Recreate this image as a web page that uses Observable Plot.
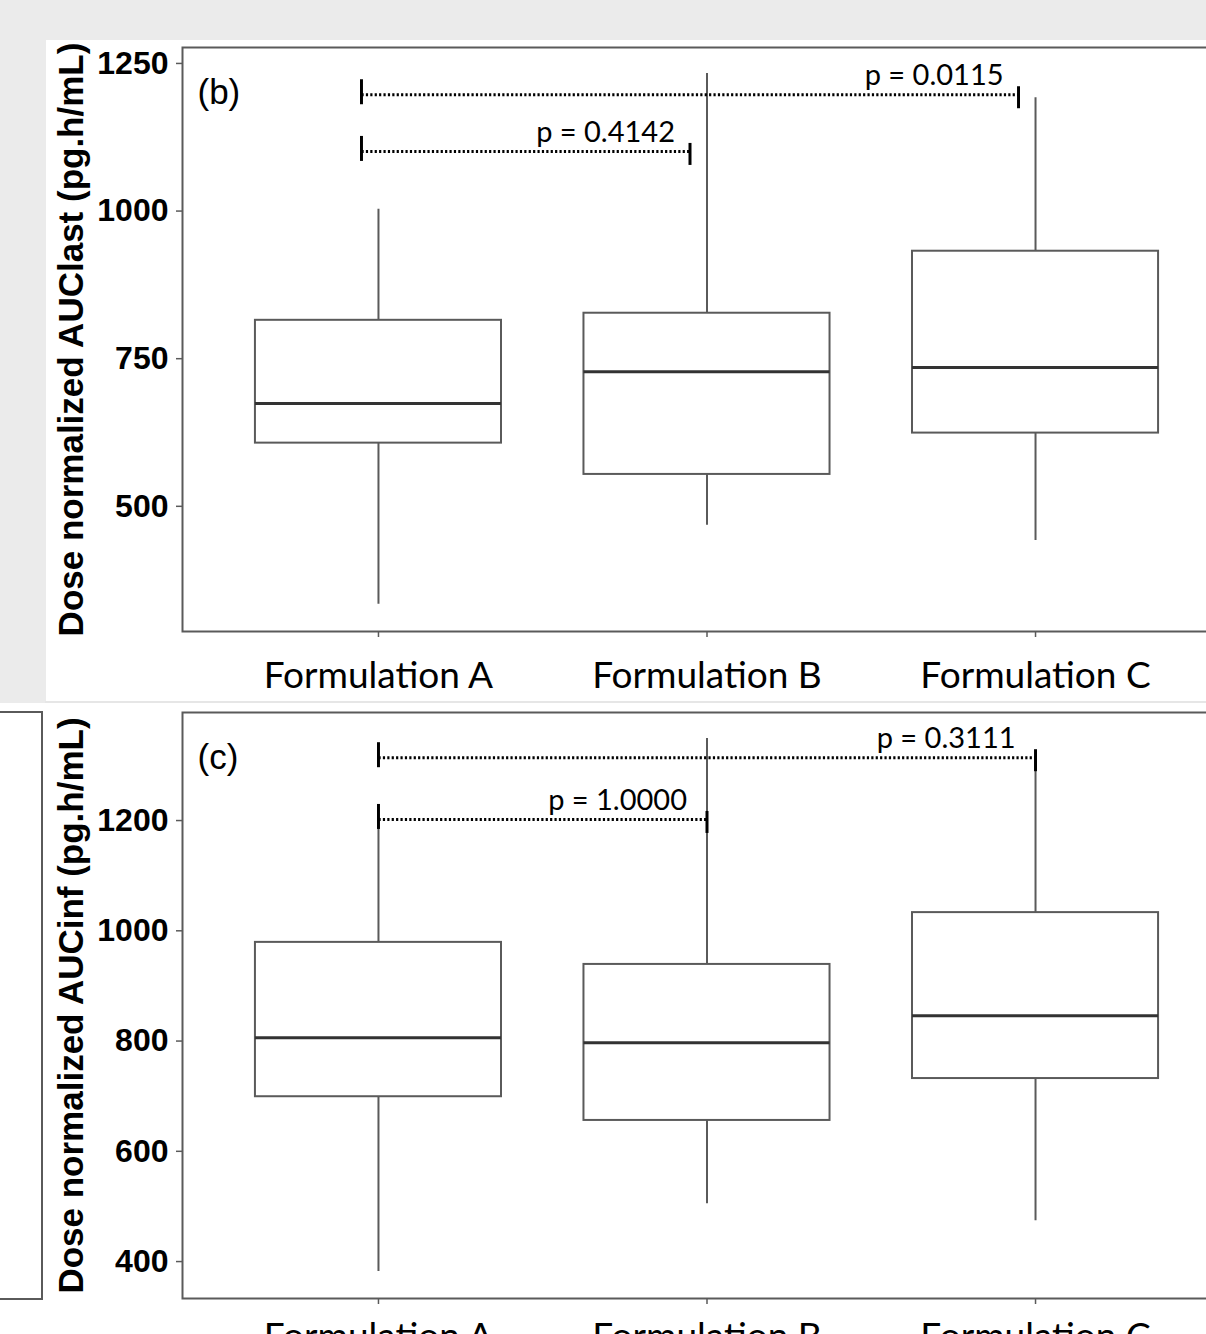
<!DOCTYPE html>
<html>
<head>
<meta charset="utf-8">
<script src="https://cdn.jsdelivr.net/npm/d3@7"></script>
<script src="https://cdn.jsdelivr.net/npm/@observablehq/plot@0.6"></script>
<style>
html, body { margin: 0; padding: 0; width: 1206px; height: 1334px; overflow: hidden; background: #fff; }
#wrap { position: relative; width: 1206px; height: 1334px; overflow: hidden; background: #fff; }
.gray { position: absolute; background: #ebebeb; }
#pb { position: absolute; left: 0; top: 0; }
#pc { position: absolute; left: 0; top: 660px; }
#leftframe { position: absolute; left: -10px; top: 711px; width: 49px; height: 585px; border: 2px solid #5a5a5a; }
#sep { position: absolute; left: 45px; top: 701px; width: 1161px; height: 2px; background: #e6e6e6; }
g[aria-label="y-axis tick label"] text, g[aria-label="y-axis tick label"] { font-weight: bold; }
</style>
</head>
<body>
<div id="wrap">
  <div class="gray" style="left:0;top:0;width:1206px;height:40px"></div>
  <div class="gray" style="left:0;top:40px;width:46px;height:663px"></div>
  <div id="sep"></div>
  <div id="leftframe"></div>
  <div id="pb"></div>
  <div id="pc"></div>
</div>
<script>
// ---- shared categories ----
const categories = ["Formulation A", "Formulation B", "Formulation C"];

// ---- panel (b): Dose normalized AUClast ----
const lastTitle = "Dose normalized AUClast (pg.h/mL)";
const lastTag = "(b)";
const lastTicks = [500, 750, 1000, 1250];
const lastDomain = [288, 1277];
const lastLow = [334, 468, 442];
const lastQ1 = [607, 554, 624];
const lastMedian = [674, 728, 735];
const lastQ3 = [815, 827, 932];
const lastHigh = [1003, 1233, 1192];
const lastBracketFrom = ["Formulation A", "Formulation A"];
const lastBracketTo = ["Formulation C", "Formulation B"];
const lastBracketLevel = [1197, 1101];
const lastBracketLabel = ["p = 0.0115", "p = 0.4142"];

// ---- panel (c): Dose normalized AUCinf ----
const infTitle = "Dose normalized AUCinf (pg.h/mL)";
const infTag = "(c)";
const infTicks = [400, 600, 800, 1000, 1200];
const infDomain = [333, 1396];
const infLow = [382, 505, 474];
const infQ1 = [699, 656, 732];
const infMedian = [806, 797, 846];
const infQ3 = [979, 939, 1033];
const infHigh = [1205, 1349, 1314];
const infBracketFrom = ["Formulation A", "Formulation A"];
const infBracketTo = ["Formulation C", "Formulation B"];
const infBracketLevel = [1314, 1202];
const infBracketLabel = ["p = 0.3111", "p = 1.0000"];

const LINE = "#5a5a5a";

function panel(o) {
  const rows = categories.map((c, i) => ({cat: c, lo: o.lo[i], q1: o.q1[i], med: o.med[i], q3: o.q3[i], hi: o.hi[i]}));
  const br = o.level.map((v, i) => ({from: o.from[i], to: o.to[i], y: v, label: o.labels[i]}));
  return Plot.plot({
    width: 1231,
    height: 700,
    marginLeft: 182,
    marginRight: 0,
    marginTop: o.top,
    marginBottom: o.bottom,
    style: {background: "transparent", maxWidth: "none", overflow: "visible", fontFamily: "'Liberation Sans', Arial, sans-serif", color: "#000"},
    x: {type: "band", domain: categories, paddingInner: 0.251, paddingOuter: 0.222, align: 0.5, round: false},
    y: {domain: o.domain},
    marks: [
      Plot.frame({stroke: LINE, strokeWidth: 2}),
      Plot.axisY({ticks: o.ticks, tickFormat: d => String(d), tickSize: 6, tickPadding: 8, fontSize: 32, fontWeight: "bold", stroke: LINE, strokeWidth: 1.5, fill: "#000", label: null}),
      Plot.axisX({tickSize: 6, tickPadding: o.xPad, fontSize: 37, fontFamily: "Lato", fill: "#000", stroke: LINE, strokeWidth: 1.5, label: null}),
      Plot.ruleX(rows, {x: "cat", y1: "lo", y2: "hi", stroke: LINE, strokeWidth: 2}),
      Plot.barY(rows, {x: "cat", y1: "q1", y2: "q3", fill: "white", stroke: LINE, strokeWidth: 2}),
      Plot.tickY(rows, {x: "cat", y: "med", stroke: "#333", strokeWidth: 3}),
      Plot.link(br, {x1: "from", x2: "to", y1: "y", y2: "y", stroke: "#000", strokeWidth: 3, strokeDasharray: "2.2,2.2", dx: o.bdx}),
      Plot.ruleX(br, {x: "from", y1: "y", y2: "y", insetTop: 10, insetBottom: 15, stroke: "#000", strokeWidth: 3, dx: o.bdx}),
      Plot.ruleX(br, {x: "to", y1: "y", y2: "y", insetTop: 14, insetBottom: 8, stroke: "#000", strokeWidth: 3, dx: o.bdx}),
      Plot.text(br, {x: "to", y: "y", text: "label", textAnchor: "end", lineAnchor: "middle", dx: o.ldx, dy: -19, fontSize: 29, fontFamily: "Lato", fill: "#000"}),
      Plot.text([o.tag], {frameAnchor: "top-left", text: d => d, dx: 15, dy: 45, lineAnchor: "middle", fontSize: 35, fill: "#000"}),
      Plot.text([o.title], {frameAnchor: "left", text: d => d, rotate: -90, textAnchor: "middle", dx: -111, lineAnchor: "middle", fontSize: 35, fontWeight: "bold", fill: "#000"})
    ]
  });
}

document.getElementById("pb").appendChild(panel({
  lo: lastLow, q1: lastQ1, med: lastMedian, q3: lastQ3, hi: lastHigh,
  domain: lastDomain, ticks: lastTicks, title: lastTitle, tag: lastTag,
  from: lastBracketFrom, to: lastBracketTo, level: lastBracketLevel, labels: lastBracketLabel,
  top: 47, bottom: 69, xPad: 24, bdx: -17, ldx: -32
}));

document.getElementById("pc").appendChild(panel({
  lo: infLow, q1: infQ1, med: infMedian, q3: infQ3, hi: infHigh,
  domain: infDomain, ticks: infTicks, title: infTitle, tag: infTag,
  from: infBracketFrom, to: infBracketTo, level: infBracketLevel, labels: infBracketLabel,
  top: 52, bottom: 62, xPad: 18, bdx: 0, ldx: -20
}));
</script>
</body>
</html>
